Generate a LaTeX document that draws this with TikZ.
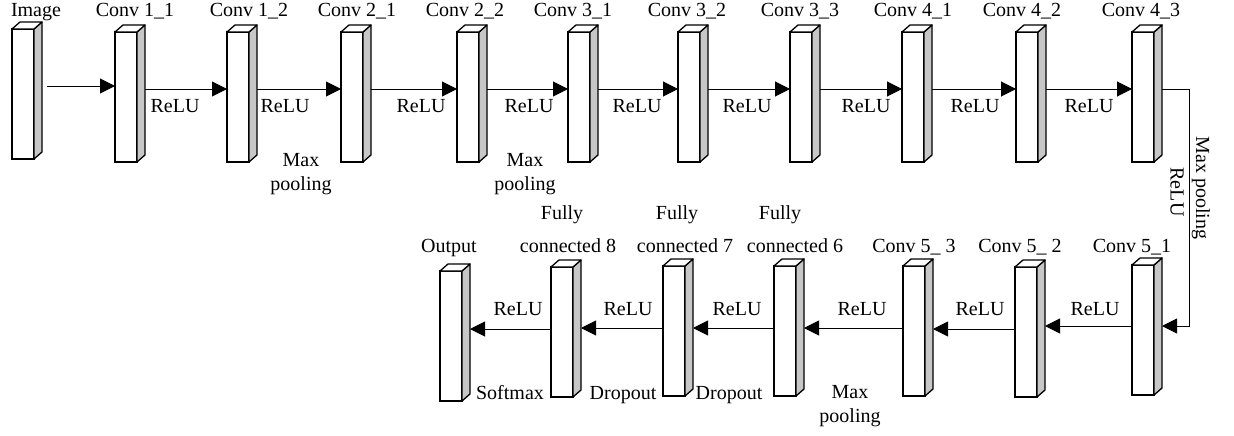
\documentclass[tikz,border=0pt]{standalone}
\usepackage{fontspec}
\setmainfont{Liberation Serif}
\usetikzlibrary{arrows.meta}
\tikzset{
  front/.style={draw, fill=white, line width=1.3pt, minimum width=22pt, minimum height=130pt, inner sep=0pt, outer sep=0pt},
  sideface/.style={draw, fill=black!22, line width=1.3pt, line join=round},
  topface/.style={draw, fill=white, line width=1.3pt, line join=round},
  arr/.style={line width=1pt, -{Triangle[length=15pt,width=15pt]}},
  lbl/.style={font=\fontsize{20}{24}\selectfont, inner sep=0pt, anchor=base},
  rlbl/.style={font=\fontsize{20}{24}\selectfont, inner sep=0pt, rotate=-90},
}
\newcommand{\blk}[3]{%
  \node[front] (#1) at (#2+11, #3+65) {};
  \filldraw[sideface] (#1.north east) -- ++(8pt,7pt) -- ++(0pt,-130pt) -- (#1.south east) -- cycle;
  \filldraw[topface] (#1.north west) -- ++(8pt,7pt) -- ++(22pt,0pt) -- (#1.north east) -- cycle;
  \coordinate (#1-s) at ([xshift=8pt]#1.east);
}
\begin{document}
\begin{tikzpicture}[x=1pt, y=-1pt]
\useasboundingbox (0,0) rectangle (1234,436);
% top row blocks
\blk{img}{12}{29}
\blk{c11}{115}{32}
\blk{c12}{227}{32}
\blk{c21}{341}{32}
\blk{c22}{457}{32}
\blk{c31}{568}{32}
\blk{c32}{678}{32}
\blk{c33}{790}{32}
\blk{c41}{902}{32}
\blk{c42}{1016}{32}
\blk{c43}{1132}{32}
% bottom row blocks
\blk{out}{440}{271}
\blk{fc8}{551}{267}
\blk{fc7}{663}{266}
\blk{fc6}{774}{266}
\blk{c53}{903}{266}
\blk{c52}{1015}{267}
\blk{c51}{1132}{265}
% top labels
\node[lbl] (limg) at (36,17) {Image};
\node[lbl] (l11) at (135,17) {Conv 1\_1};
\node[lbl] (l12) at (249,17) {Conv 1\_2};
\node[lbl] (l21) at (357,17) {Conv 2\_1};
\node[lbl] (l22) at (465,17) {Conv 2\_2};
\node[lbl] (l31) at (573,17) {Conv 3\_1};
\node[lbl] (l32) at (687,17) {Conv 3\_2};
\node[lbl] (l33) at (800,17) {Conv 3\_3};
\node[lbl] (l41) at (913,17) {Conv 4\_1};
\node[lbl] (l42) at (1022,17) {Conv 4\_2};
\node[lbl] (l43) at (1141,17) {Conv 4\_3};
% top arrows
\draw[arr] ([shift={(5pt,8pt)}]img-s) -- ([yshift=8pt]img-s -| c11.west);
\draw[arr] ([yshift=8pt]c11-s) -- ([yshift=8pt]c11-s -| c12.west);
\draw[arr] ([yshift=8pt]c12-s) -- ([yshift=8pt]c12-s -| c21.west);
\draw[arr] ([yshift=8pt]c21-s) -- ([yshift=8pt]c21-s -| c22.west);
\draw[arr] ([yshift=8pt]c22-s) -- ([yshift=8pt]c22-s -| c31.west);
\draw[arr] ([yshift=8pt]c31-s) -- ([yshift=8pt]c31-s -| c32.west);
\draw[arr] ([yshift=8pt]c32-s) -- ([yshift=8pt]c32-s -| c33.west);
\draw[arr] ([yshift=8pt]c33-s) -- ([yshift=8pt]c33-s -| c41.west);
\draw[arr] ([yshift=8pt]c41-s) -- ([yshift=8pt]c41-s -| c42.west);
\draw[arr] ([yshift=8pt]c42-s) -- ([yshift=8pt]c42-s -| c43.west);
% top arrow labels
\node[lbl] (r1) at (175,112) {ReLU};
\node[lbl] (r2) at (285,112) {ReLU};
\node[lbl] (r3) at (421,112) {ReLU};
\node[lbl] (r4) at (529,112) {ReLU};
\node[lbl] (r5) at (637,112) {ReLU};
\node[lbl] (r6) at (747,112) {ReLU};
\node[lbl] (r7) at (866,112) {ReLU};
\node[lbl] (r8) at (975,112) {ReLU};
\node[lbl] (r9) at (1089,112) {ReLU};
\node[lbl] (m1a) at (301,166) {Max};
\node[lbl] (m1b) at (301,190) {pooling};
\node[lbl] (m2a) at (525,166) {Max};
\node[lbl] (m2b) at (525,190) {pooling};
% right connector
\draw[arr] ([yshift=8pt]c43-s) -- ++(27pt,0pt) |- ([yshift=4pt]c51-s);
\node[rlbl] (rmp) at (1201,188) {Max pooling};
\node[rlbl] (rrl) at (1177,192) {ReLU};
% bottom arrows
\draw[arr] ([yshift=4pt]c51.west) -- ([yshift=4pt]c51.west -| c52-s);
\draw[arr] ([yshift=3pt]c52.west) -- ([yshift=3pt]c52.west -| c53-s);
\draw[arr] ([yshift=3pt]c53.west) -- ([yshift=3pt]c53.west -| fc6-s);
\draw[arr] ([yshift=3pt]fc6.west) -- ([yshift=3pt]fc6.west -| fc7-s);
\draw[arr] ([yshift=3pt]fc7.west) -- ([yshift=3pt]fc7.west -| fc8-s);
\draw[arr] ([yshift=3pt]fc8.west) -- ([yshift=3pt]fc8.west -| out-s);
% bottom labels
\node[lbl] (b1) at (518,315) {ReLU};
\node[lbl] (b2) at (628,315) {ReLU};
\node[lbl] (b3) at (737,315) {ReLU};
\node[lbl] (b4) at (862,315) {ReLU};
\node[lbl] (b5) at (980,315) {ReLU};
\node[lbl] (b6) at (1095,315) {ReLU};
\node[lbl] (sm) at (510,399) {Softmax};
\node[lbl] (d1) at (623,399) {Dropout};
\node[lbl] (d2) at (729,399) {Dropout};
\node[lbl] (m3a) at (850,398) {Max};
\node[lbl] (m3b) at (850,422) {pooling};
\node[lbl] (lout) at (449,252) {Output};
\node[lbl] (f8a) at (562,219) {Fully};
\node[lbl] (f8b) at (568,252) {connected 8};
\node[lbl] (f7a) at (677,219) {Fully};
\node[lbl] (f7b) at (685,252) {connected 7};
\node[lbl] (f6a) at (780,219) {Fully};
\node[lbl] (f6b) at (795,252) {connected 6};
\node[lbl] (l53) at (914,252) {Conv 5\_ 3};
\node[lbl] (l52) at (1020,252) {Conv 5\_ 2};
\node[lbl] (l51) at (1132,252) {Conv 5\_1};
\end{tikzpicture}
\end{document}
